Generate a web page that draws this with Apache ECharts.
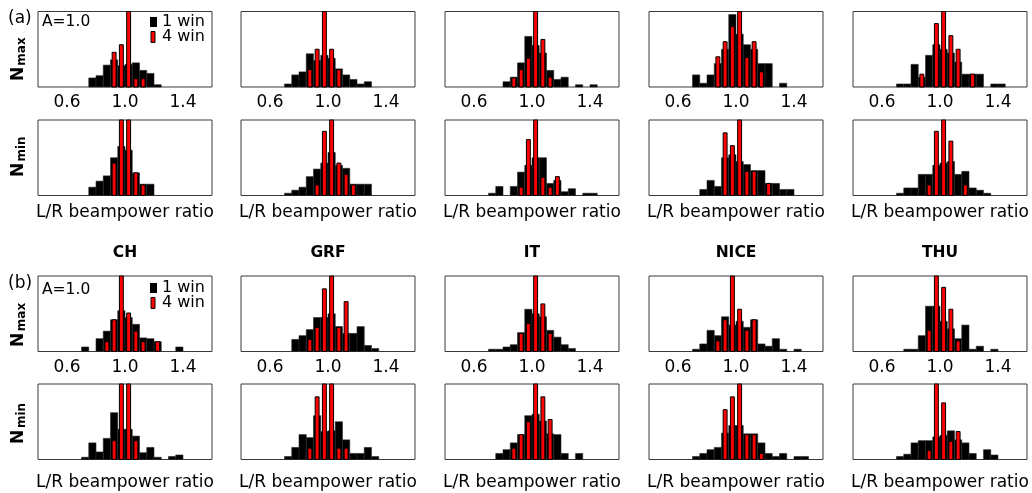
<!DOCTYPE html>
<html>
<head>
<meta charset="utf-8">
<script src="https://cdn.jsdelivr.net/npm/echarts@6/dist/echarts.min.js"></script>
<style>
  html, body { margin: 0; padding: 0; background: #fff; }
  #chart { width: 1032px; height: 493px; }
</style>
</head>
<body>
<div id="chart"></div>
<script>
// Histogram bins: 24 bins of width 0.05 starting at 0.4
const BIN_START = 0.4;
const BIN_WIDTH = 0.05;
const stations = ['CH', 'GRF', 'IT', 'NICE', 'THU'];
const tickValues = [0.6, 1.0, 1.4];

// (a) N_max, 1 window / 4 windows
const aMaxCH1   = [0,0,0,0,0,0,0,.12,.15,.29,.36,.28,.30,.32,.22,.18,.03,0,0,0,0,0,0,0];
const aMaxCH4   = [0,0,0,0,0,0,0,0,0,0,.46,.56,1.3,.11,.11,0,0,0,0,0,0,0,0,0];
const aMaxGRF1  = [0,0,0,0,0,0,.04,.16,.20,.44,.35,.42,.38,.24,.16,.10,.04,.07,0,0,0,0,0,0];
const aMaxGRF4  = [0,0,0,0,0,0,0,0,0,.23,.50,1.3,.50,.23,0,0,0,0,0,0,0,0,0,0];
const aMaxIT1   = [0,0,0,0,0,0,0,0,.07,.13,.32,.67,.55,.45,.22,.10,.13,0,.03,0,.03,0,0,0];
const aMaxIT4   = [0,0,0,0,0,0,0,0,0,.12,.23,.38,1.3,.63,.13,0,0,0,0,0,0,0,0,0];
const aMaxNICE1 = [0,0,0,0,0,0,.16,.05,.16,.31,.50,.96,.70,.56,.50,.31,.31,0,.05,0,0,0,0,0];
const aMaxNICE4 = [0,0,0,0,0,0,0,0,0,.40,.60,.80,1.3,.39,.60,.20,0,0,0,0,0,0,0,0];
const aMaxTHU1  = [0,0,0,0,0,0,.04,.04,.30,.13,.42,.56,.50,.45,.33,.17,.17,.17,0,.04,.04,0,0,0];
const aMaxTHU4  = [0,0,0,0,0,0,0,0,0,.17,0,.84,1.3,.68,.50,0,.17,0,0,0,0,0,0,0];

// (a) N_min
const aMinCH1   = [0,0,0,0,0,0,0,.11,.19,.26,.50,.65,.60,.30,.15,.15,0,0,0,0,0,0,0,0];
const aMinCH4   = [0,0,0,0,0,0,0,0,0,0,.43,1.3,1.3,.30,.14,0,0,0,0,0,0,0,0,0];
const aMinGRF1  = [0,0,0,0,0,0,.03,.07,.11,.25,.35,.43,.57,.40,.36,.15,.15,.15,0,0,0,0,0,0];
const aMinGRF4  = [0,0,0,0,0,0,0,0,0,0,.14,.85,1.3,.43,.28,.14,0,0,0,0,0,0,0,0];
const aMinIT1   = [0,0,0,0,0,0,.03,.12,0,.12,.31,.40,.50,.50,.16,.20,.05,.09,0,.03,.03,0,0,0];
const aMinIT4   = [0,0,0,0,0,0,0,0,0,0,.11,.74,1.3,.24,.11,.25,0,0,0,0,0,0,0,0];
const aMinNICE1 = [0,0,0,0,0,0,0,.08,.20,.12,.50,.54,.45,.41,.33,.33,.16,.16,.08,.08,0,0,0,0];
const aMinNICE4 = [0,0,0,0,0,0,0,0,0,0,.83,.66,1.3,.32,.32,0,.16,0,0,0,0,0,0,0];
const aMinTHU1  = [0,0,0,0,0,0,.03,.10,.10,.28,.28,.40,.43,.45,.28,.32,.10,.07,.03,0,0,0,0,0];
const aMinTHU4  = [0,0,0,0,0,0,0,0,0,0,.14,.85,1.3,.72,0,.14,0,0,0,0,0,0,0,0];

// (b) N_max
const bMaxCH1   = [0,0,0,0,0,0,.06,0,.17,.27,.42,.54,.45,.36,.18,.17,.13,0,0,.06,0,0,0,0];
const bMaxCH4   = [0,0,0,0,0,0,0,0,0,.13,.42,1.3,.51,.27,.13,0,.13,0,0,0,0,0,0,0];
const bMaxGRF1  = [0,0,0,0,0,0,0,.16,.21,.29,.45,.45,.50,.33,.24,.24,.33,.08,.04,0,0,0,0,0];
const bMaxGRF4  = [0,0,0,0,0,0,0,0,0,.16,.32,.83,1.3,.32,.66,0,0,0,0,0,0,0,0,0];
const bMaxIT1   = [0,0,0,0,0,0,.03,.03,.06,.09,.25,.56,.50,.46,.28,.19,.09,.04,0,0,0,0,0,0];
const bMaxIT4   = [0,0,0,0,0,0,0,0,0,0,.24,.37,1.3,.63,.24,0,0,0,0,0,0,0,0,0];
const bMaxNICE1 = [0,0,0,0,0,0,.03,.10,.28,.21,.46,.35,.40,.32,.42,.10,.07,.17,.03,0,.03,0,0,0];
const bMaxNICE4 = [0,0,0,0,0,0,0,0,0,.14,.42,1.3,.56,.28,.42,0,0,0,0,0,0,0,0,0];
const bMaxTHU1  = [0,0,0,0,0,0,0,.03,.03,.21,.60,.60,.40,.30,.17,.35,.03,.07,0,.03,0,0,0,0];
const bMaxTHU4  = [0,0,0,0,0,0,0,0,0,0,.28,1.3,.85,.56,.14,0,0,0,0,0,0,0,0,0];

// (b) N_min
const bMinCH1   = [0,0,0,0,0,0,.03,.22,.10,.28,.62,.40,.40,.31,.09,.16,.03,0,.04,.06,0,0,0,0];
const bMinCH4   = [0,0,0,0,0,0,0,0,0,0,.25,1.3,1.3,.25,0,0,0,0,0,0,0,0,0,0];
const bMinGRF1  = [0,0,0,0,0,0,.04,.16,.33,.29,.58,.37,.38,.50,.26,.08,.08,.16,.04,0,0,0,0,0];
const bMinGRF4  = [0,0,0,0,0,0,0,0,0,.15,.83,1.3,1.3,.15,.15,0,0,0,0,0,0,0,0,0];
const bMinIT1   = [0,0,0,0,0,0,0,.08,.13,.22,.33,.58,.60,.51,.34,.33,.08,0,.08,0,0,0,0,0];
const bMinIT4   = [0,0,0,0,0,0,0,0,0,.15,.33,.50,1.3,.83,.53,0,0,0,0,0,0,0,0,0];
const bMinNICE1 = [0,0,0,0,0,0,.04,.08,.13,.16,.35,.45,.45,.34,.34,.22,.08,.04,.08,0,.04,.04,0,0];
const bMinNICE4 = [0,0,0,0,0,0,0,0,0,0,.66,.83,1.3,.33,.33,.08,0,0,0,0,0,0,0,0];
const bMinTHU1  = [0,0,0,0,0,0,.04,.07,.22,.25,.25,.30,.32,.38,.26,.22,.08,0,.13,.06,0,0,0,0];
const bMinTHU4  = [0,0,0,0,0,0,0,0,0,0,.12,1.3,.75,.24,.37,0,0,0,0,0,0,0,0,0];

const rows = [
  [[aMaxCH1, aMaxCH4], [aMaxGRF1, aMaxGRF4], [aMaxIT1, aMaxIT4], [aMaxNICE1, aMaxNICE4], [aMaxTHU1, aMaxTHU4]],
  [[aMinCH1, aMinCH4], [aMinGRF1, aMinGRF4], [aMinIT1, aMinIT4], [aMinNICE1, aMinNICE4], [aMinTHU1, aMinTHU4]],
  [[bMaxCH1, bMaxCH4], [bMaxGRF1, bMaxGRF4], [bMaxIT1, bMaxIT4], [bMaxNICE1, bMaxNICE4], [bMaxTHU1, bMaxTHU4]],
  [[bMinCH1, bMinCH4], [bMinGRF1, bMinGRF4], [bMinIT1, bMinIT4], [bMinNICE1, bMinNICE4], [bMinTHU1, bMinTHU4]]
];

// panel layout
const colLeft = [38, 241, 445, 649, 853];
const rowTop = [11.5, 120, 276, 384];
const PW = 174, PH = 75.5;
const FONT = '"DejaVu Sans", Verdana, sans-serif';

function toPoints(arr) {
  const pts = [];
  arr.forEach((v, i) => { if (v > 0) pts.push([BIN_START + BIN_WIDTH * (i + 0.5), v]); });
  return pts;
}

function barItem(halfWidth, fill, stroke, lineWidth) {
  return function (params, api) {
    const c = api.value(0), v = api.value(1);
    const p0 = api.coord([c - halfWidth, 0]);
    const p1 = api.coord([c + halfWidth, v]);
    const cs = params.coordSys;
    const shape = echarts.graphic.clipRectByRect(
      { x: p0[0], y: p1[1], width: p1[0] - p0[0], height: p0[1] - p1[1] },
      { x: cs.x, y: cs.y, width: cs.width, height: cs.height }
    );
    if (!shape) return;
    return { type: 'rect', shape: shape, style: { fill: fill, stroke: stroke, lineWidth: lineWidth } };
  };
}

const grids = [], xAxes = [], yAxes = [], series = [];
rows.forEach((row, r) => {
  const isMax = (r % 2 === 0);
  row.forEach((pair, c) => {
    const idx = grids.length;
    grids.push({
      left: colLeft[c], top: rowTop[r], width: PW, height: PH,
      show: true, borderColor: '#3a3a3a', borderWidth: 1, backgroundColor: 'transparent'
    });
    xAxes.push({
      type: 'value', gridIndex: idx, min: 0.4, max: 1.6, interval: 0.2,
      axisLine: { show: false }, axisTick: { show: false }, splitLine: { show: false },
      axisLabel: {
        show: isMax, margin: r === 0 ? 7.5 : 8, color: '#000', fontSize: 17, fontFamily: FONT,
        formatter: v => tickValues.some(t => Math.abs(t - v) < 1e-6) ? v.toFixed(1) : ''
      },
      name: isMax ? '' : 'L/R beampower ratio',
      nameLocation: 'middle', nameGap: r === 1 ? 9 : 15,
      nameTextStyle: { color: '#000', fontSize: 17, fontFamily: FONT, verticalAlign: 'top' }
    });
    yAxes.push({ type: 'value', gridIndex: idx, min: 0, max: 1, show: false });
    series.push({
      type: 'custom', xAxisIndex: idx, yAxisIndex: idx, name: '1 win',
      renderItem: barItem(BIN_WIDTH / 2, '#000', '#2a2a2a', 0.6),
      data: toPoints(pair[0]), silent: true, z: 2
    });
    series.push({
      type: 'custom', xAxisIndex: idx, yAxisIndex: idx, name: '4 win',
      renderItem: barItem(0.0135, '#ff0000', '#000', 1),
      data: toPoints(pair[1]), silent: true, z: 3
    });
  });
});

// annotations: panel tags, amplitude, legend, station titles, row labels
const graphic = [];
function txt(x, y, text, size, bold, align, rot) {
  graphic.push({
    type: 'text', x: x, y: y, rotation: rot || 0, z: 10,
    style: {
      text: text, fill: '#000', font: (bold ? 'bold ' : '') + size + 'px ' + FONT,
      align: align || 'left', verticalAlign: 'middle'
    }
  });
}
function legendBlock(y1, y2) {
  graphic.push({ type: 'rect', z: 10, shape: { x: 150, y: y1 - 5, width: 7, height: 10 }, style: { fill: '#000' } });
  graphic.push({ type: 'rect', z: 10, shape: { x: 151, y: y2 - 5.5, width: 4, height: 11 }, style: { fill: '#ff0000', stroke: '#000', lineWidth: 1 } });
  txt(162, y1, '1 win', 16, false);
  txt(162, y2, '4 win', 16, false);
}

txt(8, 18.5, '(a)', 17, false);
txt(42, 22, 'A=1.0', 15.5, false);
legendBlock(22, 37);

txt(8, 283.5, '(b)', 17, false);
txt(42, 289.5, 'A=1.0', 15.5, false);
legendBlock(288, 303);

stations.forEach((s, c) => txt(colLeft[c] + PW / 2, 253, s, 15.5, true, 'center'));

// rotated row labels: bold N with subscript
const rowLabel = [
  { sub: 'max', nY: 74, sY: 51.5 },
  { sub: 'min', nY: 170, sY: 149 },
  { sub: 'max', nY: 340, sY: 317 },
  { sub: 'min', nY: 437, sY: 415.5 }
];
rowLabel.forEach(l => {
  txt(19, l.nY, 'N', 17, true, 'center', Math.PI / 2);
  txt(22, l.sY, l.sub, 12, true, 'center', Math.PI / 2);
});

const chart = echarts.init(document.getElementById('chart'), null, { renderer: 'canvas' });
chart.setOption({
  animation: false,
  backgroundColor: '#fff',
  grid: grids,
  xAxis: xAxes,
  yAxis: yAxes,
  series: series,
  graphic: graphic
});
</script>
</body>
</html>
